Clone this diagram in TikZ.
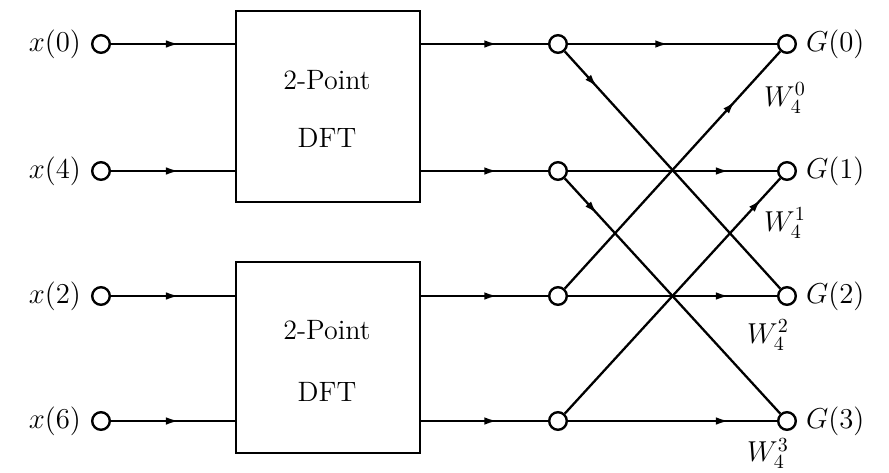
\documentclass[tikz,border=0pt]{standalone}
\usetikzlibrary{decorations.markings,arrows.meta,positioning}
\begin{document}
\begin{tikzpicture}[x=0.5pt,y=-0.5pt,
  line width=1.15pt,
  font=\fontsize{14}{17}\selectfont,
  dot/.style={circle,draw,fill=white,minimum size=8.8pt,inner sep=0pt,line width=1.2pt},
  blk/.style={draw,minimum width=92pt,minimum height=95.5pt,inner sep=0pt,line width=1.4pt},
  lbl/.style={inner sep=0pt},
  flow/.style={decoration={markings,mark=at position #1 with {\arrow{Latex[length=6.5pt,width=3.8pt]}}},postaction={decorate}},
]
\useasboundingbox (0,0) rectangle (889,472);
% blocks
\node[blk] (b1) at (328,106.5) {};
\node[blk] (b2) at (328,357.5) {};
\node[lbl] (t1) at (327,80) {2-Point};
\node[lbl] (t2) at (327,138) {DFT};
\node[lbl] (t3) at (327,330) {2-Point};
\node[lbl] (t4) at (327,392) {DFT};
% inputs
\node[dot] (i0) at (101,44) {};
\node[dot] (i1) at (101,171) {};
\node[dot] (i2) at (101,296) {};
\node[dot] (i3) at (101,421) {};
% middle
\node[dot] (m0) at (558,44) {};
\node[dot] (m1) at (558,171) {};
\node[dot] (m2) at (558,296) {};
\node[dot] (m3) at (558,421) {};
% outputs
\node[dot] (o0) at (787,44) {};
\node[dot] (o1) at (787,171) {};
\node[dot] (o2) at (787,296) {};
\node[dot] (o3) at (787,421) {};
% input labels
\node[lbl,anchor=east] (lx0) at ([xshift=-4.5pt]i0.west) {$x(0)$};
\node[lbl,anchor=east] (lx1) at ([xshift=-4.5pt]i1.west) {$x(4)$};
\node[lbl,anchor=east] (lx2) at ([xshift=-4.5pt]i2.west) {$x(2)$};
\node[lbl,anchor=east] (lx3) at ([xshift=-4.5pt]i3.west) {$x(6)$};
% output labels
\node[lbl,anchor=west] (lg0) at ([xshift=4pt]o0.east) {$G(0)$};
\node[lbl,anchor=west] (lg1) at ([xshift=4pt]o1.east) {$G(1)$};
\node[lbl,anchor=west] (lg2) at ([xshift=4pt]o2.east) {$G(2)$};
\node[lbl,anchor=west] (lg3) at ([xshift=4pt]o3.east) {$G(3)$};
% twiddle labels
\node[lbl] (w0) at (785,98) {$W_4^0$};
\node[lbl] (w1) at (785,223) {$W_4^1$};
\node[lbl] (w2) at (768,335) {$W_4^2$};
\node[lbl,anchor=south] (w3) at (768,470) {$W_4^3$};
% input connectors
\draw[flow=0.55] (i0) -- (b1.west |- i0);
\draw[flow=0.55] (i1) -- (b1.west |- i1);
\draw[flow=0.55] (i2) -- (b2.west |- i2);
\draw[flow=0.55] (i3) -- (b2.west |- i3);
% block outputs
\draw[flow=0.6] (b1.east |- m0) -- (m0);
\draw[flow=0.6] (b1.east |- m1) -- (m1);
\draw[flow=0.6] (b2.east |- m2) -- (m2);
\draw[flow=0.6] (b2.east |- m3) -- (m3);
% butterfly
\draw[flow=0.48] (m0) -- (o0);
\draw[flow=0.77] (m1) -- (o1);
\draw[flow=0.77] (m2) -- (o2);
\draw[flow=0.77] (m3) -- (o3);
\draw[flow=0.15] (m0) -- (o2);
\draw[flow=0.15] (m1) -- (o3);
\draw[flow=0.79] (m2) -- (o0);
\draw[flow=0.91] (m3) -- (o1);
\end{tikzpicture}
\end{document}
